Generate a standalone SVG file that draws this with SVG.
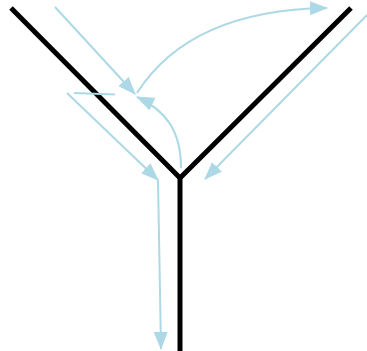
<svg xmlns="http://www.w3.org/2000/svg" width="367" height="351" viewBox="0 0 367 351">
<style>
.wire{stroke:#000;stroke-width:5;fill:none;stroke-linecap:butt;stroke-linejoin:miter}
.arr{stroke:#add8e6;stroke-width:2;fill:none}
</style>
<defs>
<marker id="ah" markerUnits="userSpaceOnUse" viewBox="0 0 18 14" refX="17" refY="7" markerWidth="18" markerHeight="14" orient="auto">
<path d="M0,0 L18,7 L0,14 z" fill="#add8e6"/>
</marker>
</defs>
<rect width="367" height="351" fill="#fff"/>
<g id="wires">
<path class="wire" d="M11,8 L180,178 L351,8"/>
<path class="wire" d="M180,178 L180,351"/>
</g>
<g id="connectors">
<path class="arr" d="M55,7 L135,94" marker-end="url(#ah)"/>
<path class="arr" d="M137,93 Q190,10 327,8" marker-end="url(#ah)"/>
<path class="arr" d="M181,168 C181,130 165,110 137,97" marker-end="url(#ah)"/>
<path class="arr" d="M74,93 L115,94.5"/>
<path class="arr" d="M67,93 L158,180" marker-end="url(#ah)"/>
<path class="arr" d="M158,180 L161,349" marker-end="url(#ah)"/>
<path class="arr" d="M367,15 L205,179" marker-end="url(#ah)"/>
</g>
</svg>
